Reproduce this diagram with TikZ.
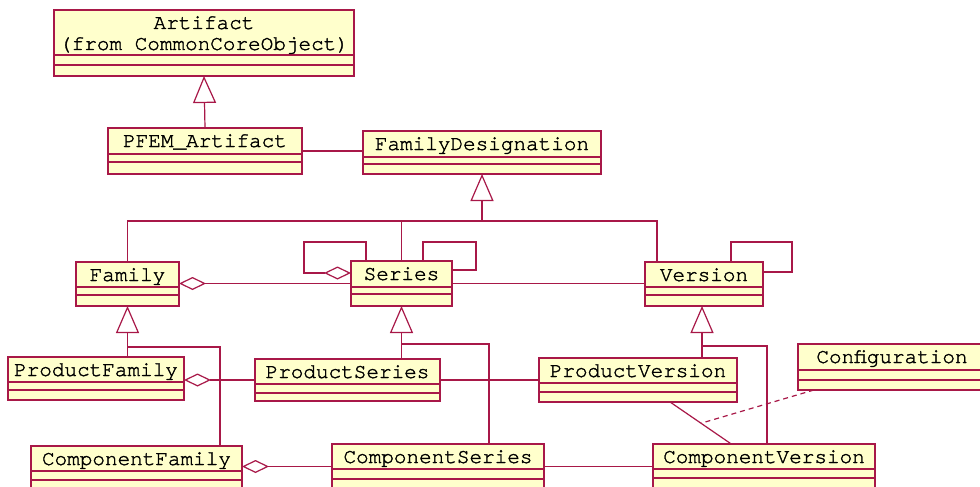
\documentclass[tikz,border=0pt]{standalone}
\usepackage{fontspec}
\newfontfamily\umlcursor{texgyrecursor-regular.otf}[FakeBold=1.6]
\usetikzlibrary{arrows.meta,calc}
\definecolor{umlborder}{RGB}{168,24,72}
\definecolor{umlfill}{RGB}{255,255,204}
\tikzset{
  cls/.style={draw=umlborder, fill=umlfill, line width=1.2pt, rectangle, inner sep=0pt, outer sep=0pt},
  umlline/.style={draw=umlborder, line width=1.2pt},
  ctext/.style={font=\fontsize{21pt}{22pt}\selectfont\umlcursor, anchor=base, inner sep=0pt, text=black},
  gen/.style={umlline, -{Triangle[length=27pt,width=23pt,fill=white]}},
  agg/.style={umlline, -{Diamond[length=27pt,width=13pt,fill=white]}},
  linkdash/.style={umlline, dash pattern=on 5pt off 4pt},
}
% class box: name, left, top, width, height, first and second compartment rule (from top)
\newcommand\classbox[7]{%
  \node[cls, minimum width=#4pt, minimum height=#5pt] (#1) at ({#2+#4/2},{#3+#5/2}) {};
  \draw[umlline] ([yshift=-#6pt]#1.north west) -- ([yshift=-#6pt]#1.north east);
  \draw[umlline] ([yshift=-#7pt]#1.north west) -- ([yshift=-#7pt]#1.north east);
}
\begin{document}
\begin{tikzpicture}[x=1pt,y=-1pt]
\clip (0,0) rectangle (980,487);
\fill[white] (0,0) rectangle (980,487);

% classes
\classbox{artifact}{54}{10}{300}{66}{45}{55}
\node[ctext] (artifact-name) at ([yshift=-19pt]artifact.north) {Artifact};
\node[ctext] (artifact-pkg) at ([yshift=-40pt]artifact.north) {(from CommonCoreObject)};

\classbox{pfem}{108}{128}{194}{46}{26}{34}
\node[ctext] (pfem-name) at ([yshift=-19pt]pfem.north) {PFEM\_Artifact};

\classbox{famdes}{363}{131}{238}{43}{26}{33}
\node[ctext] (famdes-name) at ([yshift=-19pt]famdes.north) {FamilyDesignation};

\classbox{family}{76}{262}{103}{44}{25}{33}
\node[ctext] (family-name) at ([yshift=-19pt]family.north) {Family};

\classbox{series}{351}{261}{101}{45}{26}{33}
\node[ctext] (series-name) at ([yshift=-19pt]series.north) {Series};

\classbox{version}{645}{262}{118}{44}{25}{33}
\node[ctext] (version-name) at ([yshift=-19pt]version.north) {Version};

\classbox{prodfam}{8}{357}{176}{43}{25}{33}
\node[ctext] (prodfam-name) at ([yshift=-19pt]prodfam.north) {ProductFamily};

\classbox{prodser}{255}{359}{185}{42}{25}{34}
\node[ctext] (prodser-name) at ([yshift=-19pt]prodser.north) {ProductSeries};

\classbox{prodver}{539}{358}{198}{44}{25}{34}
\node[ctext] (prodver-name) at ([yshift=-19pt]prodver.north) {ProductVersion};

\classbox{config}{798}{344}{188}{46}{26}{36}
\node[ctext] (config-name) at ([yshift=-19pt]config.north) {Configuration};

\classbox{compfam}{31}{446}{211}{44}{25}{34}
\node[ctext] (compfam-name) at ([yshift=-19pt]compfam.north) {ComponentFamily};

\classbox{compser}{332}{444}{212}{45}{25}{35}
\node[ctext] (compser-name) at ([yshift=-19pt]compser.north) {ComponentSeries};

\classbox{compver}{653}{444}{222}{45}{25}{34}
\node[ctext] (compver-name) at ([yshift=-19pt]compver.north) {ComponentVersion};

% generalizations
\draw[gen] (pfem.north) -- (artifact.south);

\coordinate (fd-join) at (482,221);
\draw[gen] (fd-join) -- (famdes.south);
\draw[umlline] (family.north) |- (fd-join) -| ([xshift=12pt]version.north west);
\draw[umlline] (series.north) -- (series.north |- fd-join);

\coordinate (fam-join) at ($(family.south)+(0,41)$);
\draw[gen] (fam-join) -- (family.south);
\draw[umlline] (fam-join |- prodfam.north) -- (fam-join) -| ([xshift=189pt]compfam.north west);

\coordinate (ser-join) at ($(series.south)+(0,38)$);
\draw[gen] (ser-join) -- (series.south);
\draw[umlline] (ser-join |- prodser.north) -- (ser-join) -| ([xshift=157pt]compser.north west);

\coordinate (ver-join) at ($(version.south)+(-2,40)$);
\draw[gen] (ver-join) -- ([xshift=-2pt]version.south);
\draw[umlline] (ver-join |- prodver.north) -- (ver-join) -| ([xshift=114pt]compver.north west);

% associations
\draw[umlline] (pfem.east) -- (pfem.east -| famdes.west);
\draw[agg] (series.west) -- (series.west -| family.east);
\draw[umlline] (series.east) -- (series.east -| version.west);
\draw[agg] (prodser.west) -- (prodser.west -| prodfam.east);
\draw[umlline] (prodser.east) -- (prodser.east -| prodver.west);
\draw[agg] (compser.west) -- (compser.west -| compfam.east);
\draw[umlline] (compser.east) -- (compser.east -| compver.west);

% self associations
\coordinate (ser-loopL) at (304,242);
\coordinate (ser-loopR) at (476,242);
\coordinate (ver-loop) at (792,242);
\draw[agg] ([xshift=15pt]series.north west) |- (ser-loopL) |- ([yshift=10.5pt]series.west);
\draw[umlline] ([xshift=72pt]series.north west) |- (ser-loopR) |- ([yshift=13.5pt]series.east);
\draw[umlline] ([xshift=86pt]version.north west) |- (ver-loop) |- ([yshift=12pt]version.east);

% association class link
\draw[umlline] (prodver) -- (compver);
\coordinate (pv-cv) at ($(prodver)!0.5!(compver)$);
\draw[linkdash] (config) -- (pv-cv);
\end{tikzpicture}
\end{document}
